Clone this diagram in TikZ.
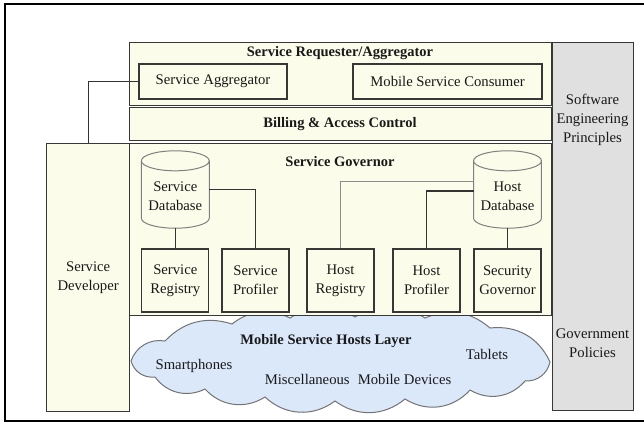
\documentclass[tikz,border=0pt]{standalone}
\usepackage{fontspec}
\setmainfont{Liberation Serif}
\usetikzlibrary{calc}
\definecolor{cream}{RGB}{252,252,234}
\definecolor{panelgray}{RGB}{224,224,224}
\definecolor{cloudblue}{RGB}{218,232,250}
\definecolor{edge}{RGB}{55,55,55}

% cylinder outline drawn on the bounds of a node
\newcommand\drumshape[1]{%
  \path[draw=black!50, line width=1pt, fill=cream]
    let \p1=(#1.north west), \p2=(#1.south east), \n1={(\x2-\x1)/2} in
    (\x1,\y1-10pt) -- (\x1,\y2+10pt)
      arc[start angle=180, end angle=360, x radius=\n1, y radius=10pt]
      -- (\x2,\y1-10pt)
      arc[start angle=0, end angle=180, x radius=\n1, y radius=10pt] -- cycle
    (\x1,\y1-10pt)
      arc[start angle=180, end angle=360, x radius=\n1, y radius=10pt];}

\begin{document}
\begin{tikzpicture}[x=1pt, y=-1pt,
  every node/.style={font=\fontsize{14.7}{19}\selectfont, text=black!90, inner sep=0pt},
  layer/.style={draw=edge, line width=1.3pt, fill=cream, anchor=north west},
  unitbox/.style={draw=edge, line width=1.3pt, fill=cream, minimum width=67pt,
    minimum height=63pt, align=center},
  innerbox/.style={draw=edge, line width=1.3pt, fill=cream, minimum width=148pt,
    minimum height=35pt},
  dbnode/.style={minimum width=67.5pt, minimum height=77pt},
  heading/.style={font=\fontsize{14.5}{19}\selectfont\bfseries},
  wire/.style={draw=black!80, line width=1.1pt},
  puff/.style={bend left=#1},
  sidebar/.style={draw=edge, line width=1.3pt, fill=panelgray, anchor=north west}]

\useasboundingbox (0,0) rectangle (644,423);

% outer frame
\draw[line width=2pt] (650,4) -- (5,4) -- (5,421) -- (650,421);

% mobile hosts cloud (drawn first so the governor layer sits over its top)
\draw[draw=black!55, line width=1pt, fill=cloudblue]
  (131,361) to[puff=40] (165,341) to[puff=32] (232,324)
  to[puff=32] (290,318) to[puff=32] (355,317)
  to[puff=32] (425,318) to[puff=32] (490,328)
  to[puff=36] (550,362) to[puff=40] (525,381)
  to[puff=40] (470,390) to[puff=40] (405,399)
  to[puff=38] (335,401) to[puff=40] (265,397)
  to[puff=40] (205,389) to[puff=40] (155,377)
  to[puff=40] (131,361) -- cycle;
\node[heading] (hosts) at (326,341) {Mobile Service Hosts Layer};
\node (phones) at (194,366) {Smartphones};
\node (misc) at (358,379) {Miscellaneous\hspace{0.55em}Mobile Devices};
\node (tabs) at (487,354) {Tablets};

% layers
\node[layer, minimum width=422pt, minimum height=63pt] (req) at (129,42) {};
\node[heading] (reqt) at (340,53) {Service Requester/Aggregator};
\node[innerbox] (sagg) at (213,81.5) {Service Aggregator};
\node[innerbox, minimum width=189pt] (msc) at (447.5,81.5) {Mobile Service Consumer};

\node[layer, minimum width=422pt, minimum height=33pt] (bill) at (129,107) {};
\node[heading] (billt) at (340,124) {Billing \& Access Control};

\node[layer, minimum width=83pt, minimum height=268pt, align=center] (dev) at (46,143)
  {Service\\Developer};
\node[layer, minimum width=422pt, minimum height=172pt] (gov) at (129,143) {};
\node[heading] (govt) at (340,162) {Service Governor};

% side panel
\node[sidebar, minimum width=81pt, minimum height=368pt] (side) at (552,42) {};
\node[align=center] (sep) at (592.5,120) {Software\\Engineering\\Principles};
\node[align=center] (gp) at (592.5,343) {Government\\Policies};

% databases
\node[dbnode] (sdb) at (175.3,189.5) {};
\drumshape{sdb}
\node[align=center] (sdbt) at (175.3,196.5) {Service\\Database};
\node[dbnode] (hdb) at (507.5,189.5) {};
\drumshape{hdb}
\node[align=center] (hdbt) at (507.5,196.5) {Host\\Database};

% governor units
\node[unitbox] (sreg) at (175.3,280.5) {Service\\Registry};
\node[unitbox] (sprof) at (255.5,280.5) {Service\\Profiler};
\node[unitbox] (hreg) at (340.5,280.5) {Host\\Registry};
\node[unitbox] (hprof) at (426.5,280.5) {Host\\Profiler};
\node[unitbox] (secg) at (507.5,280.5) {Security\\Governor};

% connectors
\draw[wire] (sagg.west) -| (dev.north);
\draw[wire] (sdb.south) -- (sreg.north);
\draw[wire] (sdb.east) -| (sprof.north);
\draw[wire, draw=black!45] ([yshift=8pt]hdb.west) -| (hreg.north);
\draw[wire] ([yshift=-1.5pt]hdb.west) -| (hprof.north);
\draw[wire] (hdb.south) -- (secg.north);
\end{tikzpicture}
\end{document}
